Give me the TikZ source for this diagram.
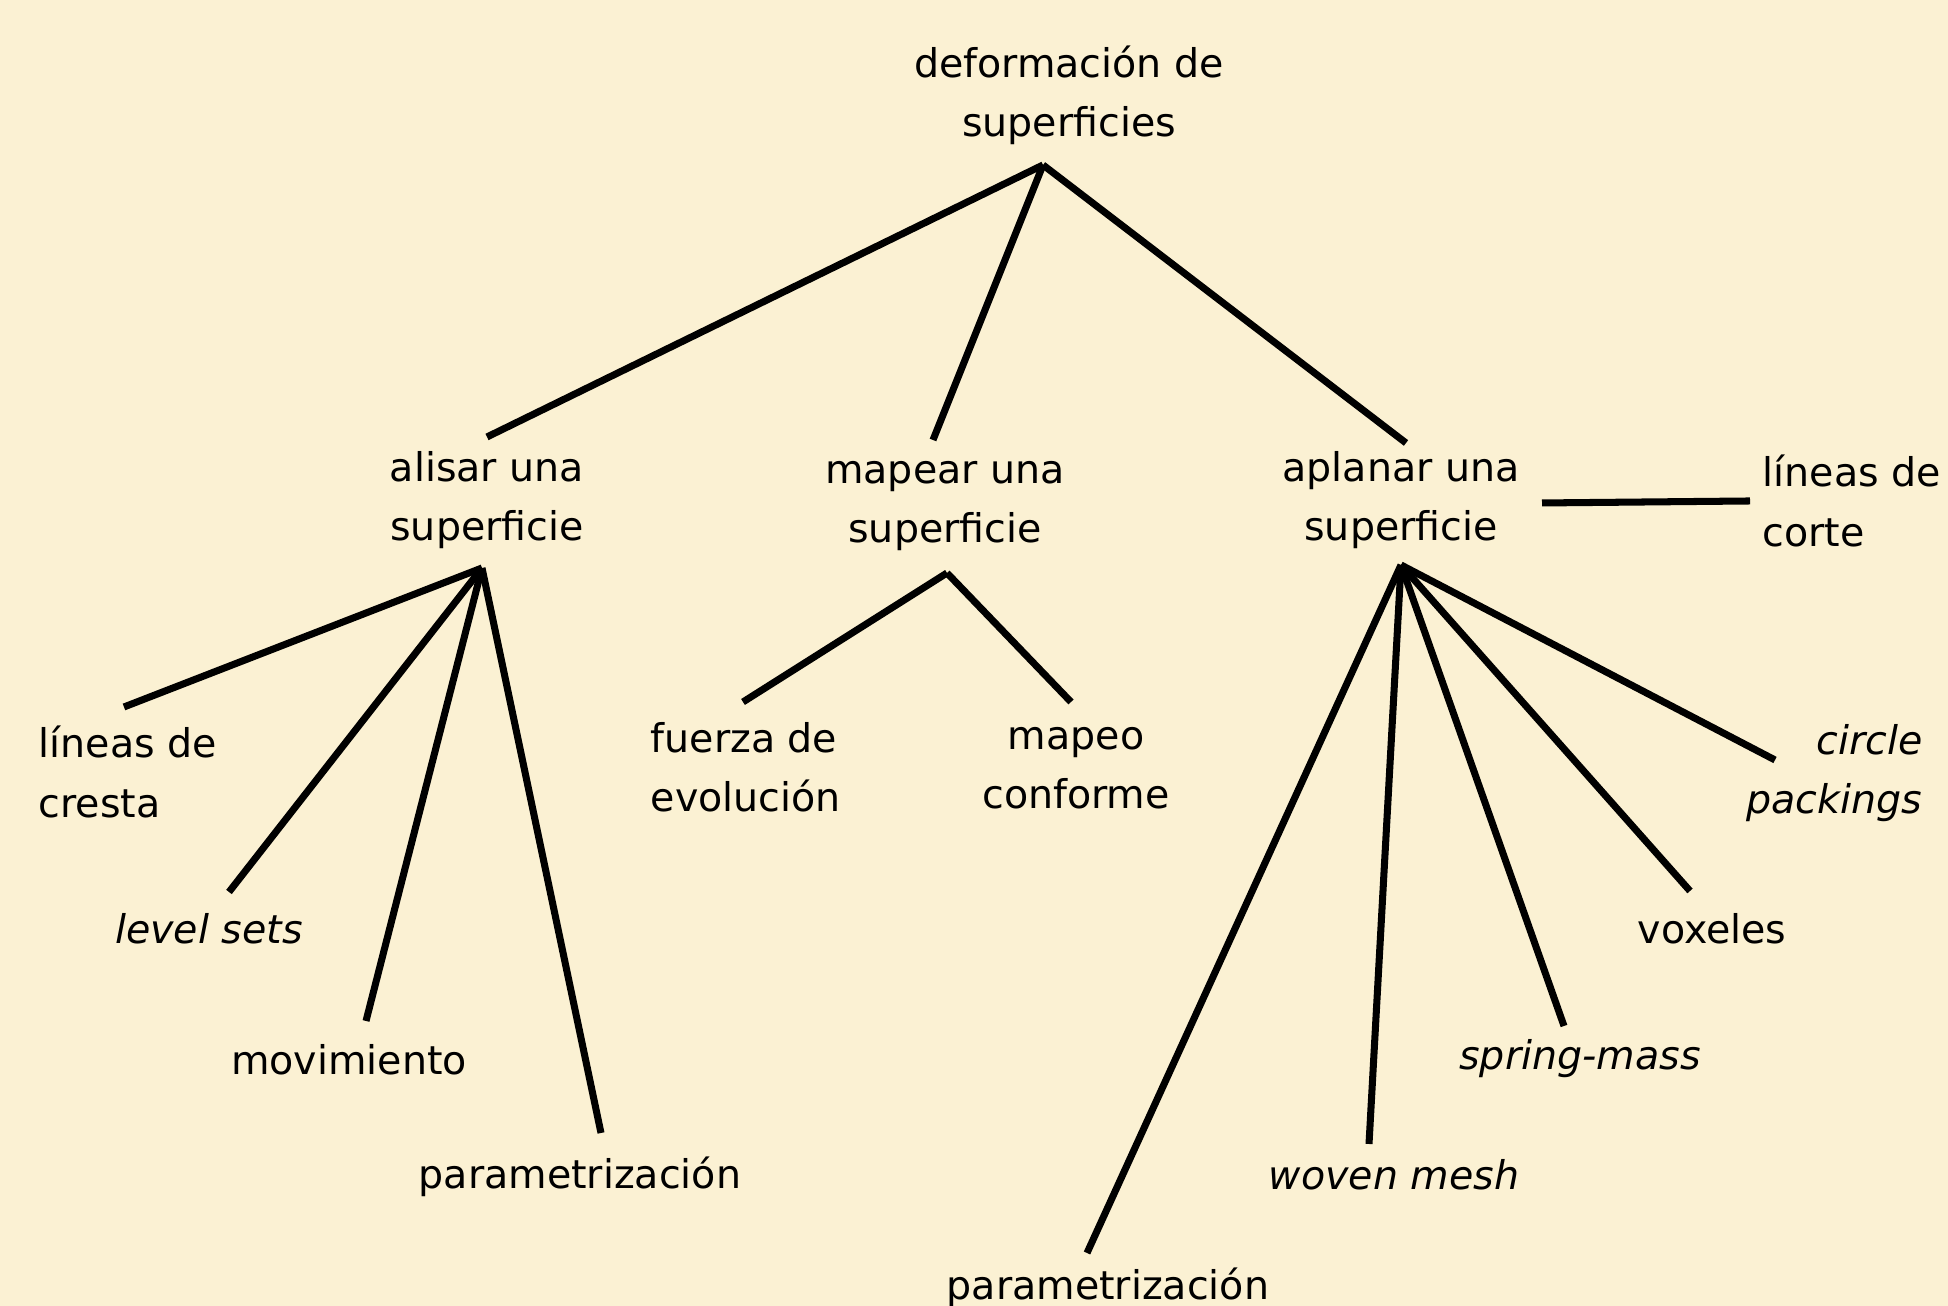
\documentclass[tikz,border=0pt]{standalone}
\usepackage{fontspec}
\setmainfont{DejaVu Sans}
\usetikzlibrary{positioning}
\definecolor{fondo}{RGB}{251,241,211}

\begin{document}
\begin{tikzpicture}[rama/.style={line width=2pt},
    every node/.style={inner sep=0pt,font=\fontsize{11.25pt}{16.8pt}\selectfont}]
    \fill[fondo] (0,0) rectangle (19.48,13.06);
    \useasboundingbox (0,0) rectangle (19.48,13.06);
    % niveles superiores
    \node[align=center] (root) at (10.69,12.11) {deformación de\\superficies};
    \node[align=center] (alisar) at (4.87,8.06) {alisar una\\superficie};
    \node[align=center] (mapear) at (9.45,8.00) {mapear una\\superficie};
    \node[align=center] (aplanar) at (14.01,8.06) {aplanar una\\superficie};
    \node[align=left,anchor=west] (corte) at (17.62,8.05) {líneas de\\corte};
    % hojas
    \node[align=left,anchor=west] (cresta) at (0.38,5.34) {líneas de\\cresta};
    \node (levelsets) at (2.09,3.77) {\itshape level sets};
    \node (movimiento) at (3.49,2.46) {movimiento};
    \node (paramA) at (5.80,1.29) {parametrización};
    \node[align=left,anchor=west] (fuerza) at (6.50,5.39) {fuerza de\\evolución};
    \node[align=center] (conforme) at (10.76,5.38) {mapeo\\conforme};
    \node[align=right,anchor=east,font=\fontsize{11.25pt}{16.8pt}\selectfont\itshape] (packings) at (19.23,5.33) {circle\\packings};
    \node (voxeles) at (17.12,3.77) {voxeles};
    \node (spring) at (15.80,2.47) {\itshape spring-mass};
    \node (woven) at (13.94,1.31) {\itshape woven mesh};
    \node (paramB) at (11.08,0.18) {parametrización};

    \draw[rama] ([shift={(-0.26,-0.70)}]root.center) -- ([shift={(0,0.63)}]alisar.center);
    \draw[rama] ([shift={(-0.26,-0.70)}]root.center) -- ([shift={(-0.12,0.66)}]mapear.center);
    \draw[rama] ([shift={(-0.26,-0.70)}]root.center) -- ([shift={(0.05,0.57)}]aplanar.center);

    \draw[rama] ([shift={(-0.05,-0.68)}]alisar.center) -- ([shift={(0.86,0.65)}]cresta.west);
    \draw[rama] ([shift={(-0.05,-0.68)}]alisar.center) -- ([shift={(0.20,0.37)}]levelsets.center);
    \draw[rama] ([shift={(-0.05,-0.68)}]alisar.center) -- ([shift={(0.17,0.39)}]movimiento.center);
    \draw[rama] ([shift={(-0.05,-0.68)}]alisar.center) -- ([shift={(0.21,0.44)}]paramA.center);

    \draw[rama] ([shift={(0.02,-0.67)}]mapear.center) -- ([shift={(0.93,0.65)}]fuerza.west);
    \draw[rama] ([shift={(0.02,-0.67)}]mapear.center) -- ([shift={(-0.05,0.66)}]conforme.center);

    \draw[rama] ([shift={(1.41,-0.03)}]aplanar.center) -- ([xshift=-1.2mm]corte.west);
    \draw[rama] ([shift={(0,-0.65)}]aplanar.center) -- ([shift={(-1.48,0.13)}]packings.east);
    \draw[rama] ([shift={(0,-0.65)}]aplanar.center) -- ([shift={(-0.22,0.38)}]voxeles.center);
    \draw[rama] ([shift={(0,-0.65)}]aplanar.center) -- ([shift={(-0.16,0.33)}]spring.center);
    \draw[rama] ([shift={(0,-0.65)}]aplanar.center) -- ([shift={(-0.25,0.31)}]woven.center);
    \draw[rama] ([shift={(0,-0.65)}]aplanar.center) -- ([shift={(-0.21,0.35)}]paramB.center);
\end{tikzpicture}
\end{document}
